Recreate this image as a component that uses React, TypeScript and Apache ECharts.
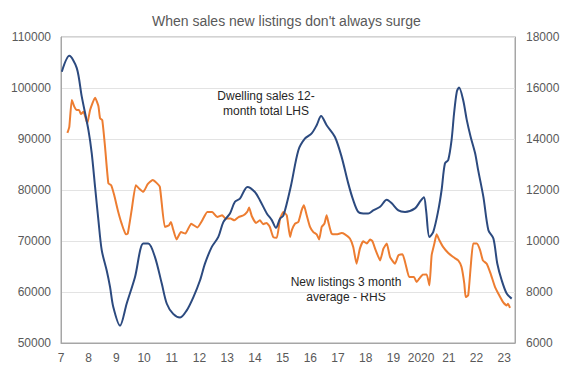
import React, { useEffect, useRef } from "react";
import * as echarts from "echarts";

const TITLE = "When sales new listings don't always surge";
const SALES_NAME = "Dwelling sales 12-\nmonth total LHS";
const LISTINGS_NAME = "New listings 3 month\naverage - RHS";

const xStartYear = 2007;
const xLabels = ["7", "8", "9", "10", "11", "12", "13", "14", "15", "16", "17", "18", "19", "2020", "21", "22", "23"];

const salesYears = [
  2007.03, 2007.3, 2007.57, 2007.75, 2007.99, 2008.11, 2008.23, 2008.35, 2008.47, 2008.65,
  2008.77, 2008.89, 2009.13, 2009.37, 2009.67, 2009.97, 2010.15, 2010.39, 2010.64, 2010.82,
  2011.05, 2011.3, 2011.54, 2011.78, 2012.02, 2012.2, 2012.44, 2012.68, 2012.86, 2013.1,
  2013.28, 2013.46, 2013.73, 2014.0, 2014.18, 2014.43, 2014.61, 2014.76, 2014.91, 2015.03,
  2015.3, 2015.57, 2015.81, 2016.05, 2016.23, 2016.39, 2016.59, 2016.89, 2017.13, 2017.37,
  2017.55, 2017.73, 2017.91, 2018.09, 2018.27, 2018.52, 2018.76, 2018.94, 2019.18, 2019.42,
  2019.78, 2019.96, 2020.1, 2020.18, 2020.3, 2020.44, 2020.62, 2020.74, 2020.86, 2020.98,
  2021.1, 2021.19, 2021.29, 2021.37, 2021.52, 2021.65, 2021.79, 2021.95, 2022.06, 2022.25,
  2022.43, 2022.61, 2022.75, 2022.91, 2023.09, 2023.27,
];
const salesValues = [
  103200, 106300, 103900, 98300, 91750, 87200, 80600, 74100, 68200, 64200,
  61000, 57000, 53400, 57700, 62900, 69500, 69500, 66900, 61600, 57700,
  55700, 55000, 56400, 59000, 62300, 65600, 68800, 70800, 73700, 75400,
  77700, 78300, 80600, 79600, 78000, 75400, 74100, 72600, 74400, 75000,
  80800, 87800, 90100, 91100, 92700, 94500, 92700, 90400, 86500, 81300,
  78000, 75700, 75400, 75400, 76000, 76700, 78100, 77400, 76000, 75700,
  76400, 77700, 78600, 76000, 70800, 71800, 76000, 80000, 85200, 85900,
  89800, 95000, 99300, 100100, 97600, 93700, 90400, 87200, 83900, 78600,
  72100, 70500, 65600, 62300, 59700, 58700,
];

const listingsYears = [
  2007.23, 2007.3, 2007.39, 2007.48, 2007.57, 2007.65, 2007.72, 2007.81, 2007.95, 2008.05,
  2008.23, 2008.35, 2008.41, 2008.49, 2008.59, 2008.71, 2008.81, 2008.92, 2009.05, 2009.19,
  2009.34, 2009.41, 2009.55, 2009.7, 2009.82, 2009.97, 2010.13, 2010.31, 2010.45, 2010.57,
  2010.75, 2010.9, 2010.97, 2011.05, 2011.17, 2011.33, 2011.49, 2011.7, 2011.92, 2012.1,
  2012.28, 2012.46, 2012.64, 2012.82, 2012.94, 2013.12, 2013.26, 2013.41, 2013.59, 2013.72,
  2013.79, 2013.89, 2014.04, 2014.18, 2014.3, 2014.42, 2014.54, 2014.66, 2014.79, 2014.91,
  2015.03, 2015.15, 2015.27, 2015.33, 2015.45, 2015.57, 2015.69, 2015.77, 2015.87, 2015.99,
  2016.11, 2016.23, 2016.32, 2016.41, 2016.51, 2016.59, 2016.65, 2016.77, 2016.95, 2017.13,
  2017.25, 2017.43, 2017.55, 2017.67, 2017.79, 2017.91, 2018.04, 2018.16, 2018.24, 2018.36,
  2018.52, 2018.64, 2018.76, 2018.88, 2019.06, 2019.18, 2019.33, 2019.45, 2019.57, 2019.74,
  2019.84, 2019.93, 2020.06, 2020.2, 2020.3, 2020.38, 2020.48, 2020.56, 2020.66, 2020.8,
  2020.98, 2021.16, 2021.34, 2021.46, 2021.56, 2021.61, 2021.7, 2021.79, 2021.88, 2022.01,
  2022.13, 2022.23, 2022.37, 2022.51, 2022.67, 2022.82, 2022.96, 2023.09, 2023.14, 2023.21,
];
const listingsValues = [
  14240, 14480, 15530, 15270, 15140, 15140, 14980, 15070, 14610, 15140,
  15620, 15290, 14810, 14740, 13690, 12260, 12190, 11800, 11210, 10680,
  10260, 10290, 11210, 12190, 12060, 11930, 12230, 12390, 12280, 12120,
  10550, 10620, 10750, 10450, 10060, 10350, 10290, 10680, 10530, 10810,
  11140, 11140, 10940, 11010, 10880, 10880, 10810, 10940, 11010, 11140,
  11310, 10970, 10710, 10810, 10660, 10710, 10550, 10160, 10130, 10880,
  11140, 11010, 10160, 10420, 10680, 10750, 11210, 11400, 11010, 10550,
  10350, 10260, 10060, 10550, 10680, 11010, 10750, 10290, 10260, 10310,
  10260, 10100, 9760, 9110, 9700, 9990, 9900, 10060, 10000, 9640,
  9240, 9700, 9900, 9370, 9110, 9440, 9480, 9050, 8590, 8590,
  8390, 8520, 8680, 8690, 8260, 9440, 9900, 10260, 10030, 9760,
  9530, 9370, 9240, 8980, 8330, 7800, 7870, 8980, 9900, 9900,
  9640, 9240, 9110, 8720, 8190, 7870, 7600, 7470, 7540, 7380,
];

const FONT = "'Liberation Sans', Arial, sans-serif";

export default function App() {
  const ref = useRef<HTMLDivElement>(null);
  useEffect(() => {
    document.body.style.margin = "0";
    if (!ref.current) return;
    const chart = echarts.init(ref.current, undefined, { renderer: "svg" });
    const salesData = salesYears.map((x, i) => [x, salesValues[i]]);
    const listingsData = listingsYears.map((x, i) => [x, listingsValues[i]]);
    const plain = (v: number) => String(v);
    chart.setOption({
      animation: false,
      backgroundColor: "#ffffff",
      textStyle: { fontFamily: FONT },
      title: {
        text: TITLE,
        left: 147,
        top: 9,
        textStyle: { fontFamily: FONT, fontSize: 14, fontWeight: "normal", color: "#595959" },
      },
      grid: {
        left: 61,
        right: 50,
        top: 37,
        bottom: 36,
        show: true,
        borderColor: "#a6a6a6",
        borderWidth: 1,
        containLabel: false,
      },
      xAxis: {
        type: "value",
        min: 2007,
        max: 2023.39,
        interval: 1,
        axisLine: { show: true, lineStyle: { color: "#a6a6a6", width: 1 } },
        axisTick: { show: false },
        splitLine: { show: false },
        axisLabel: {
          color: "#595959",
          fontSize: 12,
          fontFamily: FONT,
          margin: 9,
          showMaxLabel: false,
          formatter: (v: number) => {
            const idx = Math.round(v) - xStartYear;
            if (Math.abs(v - Math.round(v)) > 1e-6) return "";
            return xLabels[idx] ?? "";
          },
        },
      },
      yAxis: [
        {
          type: "value",
          min: 50000,
          max: 110000,
          interval: 10000,
          axisLine: { show: true, lineStyle: { color: "#a6a6a6" } },
          axisTick: { show: false },
          splitLine: { show: true, lineStyle: { color: "#e3e3e3", width: 1 } },
          axisLabel: { color: "#595959", fontSize: 12, fontFamily: FONT, margin: 10, formatter: plain },
        },
        {
          type: "value",
          min: 6000,
          max: 18000,
          interval: 2000,
          position: "right",
          axisLine: { show: true, lineStyle: { color: "#a6a6a6" } },
          axisTick: { show: false },
          splitLine: { show: false },
          axisLabel: { color: "#595959", fontSize: 12, fontFamily: FONT, margin: 11, formatter: plain },
        },
      ],
      series: [
        {
          name: "Dwelling sales",
          type: "line",
          yAxisIndex: 0,
          data: salesData,
          showSymbol: false,
          smooth: 0.3,
          lineStyle: { color: "#2c4a7f", width: 2 },
          z: 3,
        },
        {
          name: "New listings",
          type: "line",
          yAxisIndex: 1,
          data: listingsData,
          showSymbol: false,
          smooth: 0.15,
          lineStyle: { color: "#ed7d31", width: 2 },
          z: 2,
        },
      ],
      graphic: [
        {
          type: "text",
          x: 266,
          y: 88,
          style: {
            text: SALES_NAME,
            textAlign: "center",
            fontFamily: FONT,
            fontSize: 12,
            lineHeight: 15,
            fill: "#262626",
          },
        },
        {
          type: "text",
          x: 346,
          y: 274,
          style: {
            text: LISTINGS_NAME,
            textAlign: "center",
            fontFamily: FONT,
            fontSize: 12,
            lineHeight: 15,
            fill: "#262626",
          },
        },
      ],
    });
    return () => chart.dispose();
  }, []);
  return <div ref={ref} style={{ width: 565, height: 379 }} />;
}
